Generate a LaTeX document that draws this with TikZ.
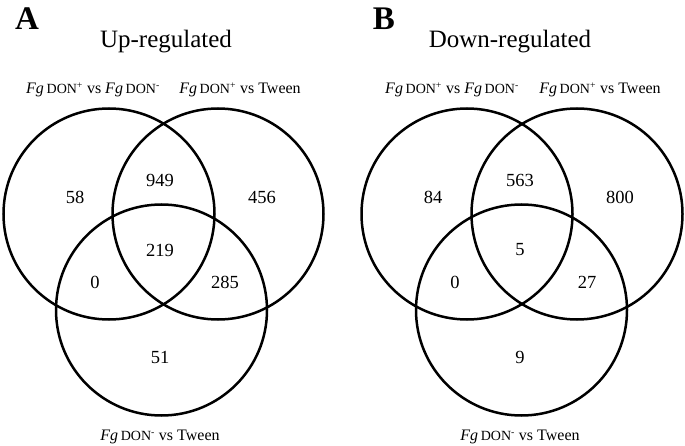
\documentclass[tikz,border=0pt]{standalone}
\usepackage{fontspec}
\setmainfont{Liberation Serif}
\usetikzlibrary{positioning}

\newcommand{\fgdon}[1]{\textit{Fg}\,{\fontsize{14}{15}\selectfont DON\textsuperscript{#1}}}

\begin{document}
\begin{tikzpicture}[x=1pt, y=-1pt,
  venn/.style={line width=2.5pt},
  count/.style={font=\fontsize{18.5}{19}\selectfont},
  setlabel/.style={font=\fontsize{16}{17}\selectfont},
  title/.style={font=\fontsize{25}{26}\selectfont},
  panel/.style={font=\fontsize{33}{34}\selectfont\bfseries}]
  \useasboundingbox (0,0) rectangle (685,446);

  % Panel A: up-regulated
  \node[panel] (labA) at (27,19) {A};
  \node[title] (titleA) at (166,42) {Up-regulated};
  \node[setlabel] (setA1) at (93,90) {\fgdon{+} vs \fgdon{-}};
  \node[setlabel] (setA2) at (240,90) {\fgdon{+} vs Tween};
  \node[setlabel] (setA3) at (160,437) {\fgdon{-} vs Tween};

  \draw[venn] (109,214) circle (105.5);
  \draw[venn] (218,214) circle (105.5);
  \draw[venn] (161.5,310) circle (105.5);

  \node[count] (a58) at (75,197) {58};
  \node[count] (a949) at (160,180) {949};
  \node[count] (a456) at (262,197) {456};
  \node[count] (a219) at (160,250) {219};
  \node[count] (a0) at (95,282) {0};
  \node[count] (a285) at (225,282) {285};
  \node[count] (a51) at (160,357) {51};

  % Panel B: down-regulated
  \node[panel] (labB) at (384,19) {B};
  \node[title] (titleB) at (510,42) {Down-regulated};
  \node[setlabel] (setB1) at (452,90) {\fgdon{+} vs \fgdon{-}};
  \node[setlabel] (setB2) at (600,90) {\fgdon{+} vs Tween};
  \node[setlabel] (setB3) at (520,437) {\fgdon{-} vs Tween};

  \draw[venn] (467,214) circle (105.5);
  \draw[venn] (577,214) circle (105.5);
  \draw[venn] (521.5,310) circle (105.5);

  \node[count] (b84) at (433,197) {84};
  \node[count] (b563) at (520,180) {563};
  \node[count] (b800) at (620,197) {800};
  \node[count] (b5) at (520,250) {5};
  \node[count] (b0) at (455,282) {0};
  \node[count] (b27) at (587,282) {27};
  \node[count] (b9) at (520,357) {9};
\end{tikzpicture}
\end{document}
